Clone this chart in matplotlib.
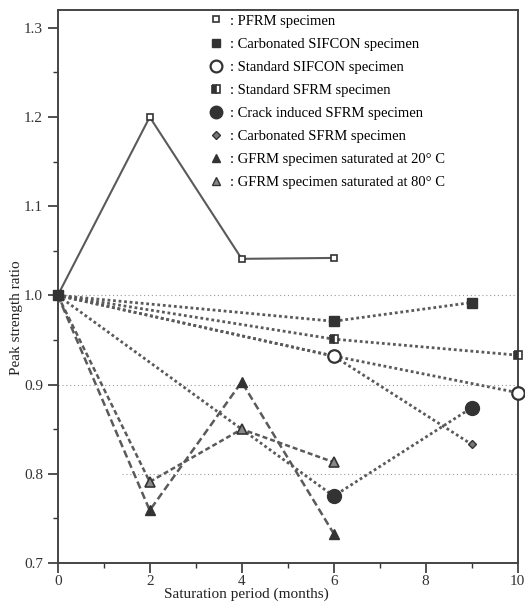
import matplotlib
matplotlib.use("Agg")
import matplotlib.pyplot as plt
from matplotlib.lines import Line2D
from matplotlib.ticker import MultipleLocator, FormatStrFormatter

# ---- data ----
pfrm_x = [0, 2, 4, 6]
pfrm_y = [1.0, 1.2, 1.041, 1.042]

carb_sifcon_x = [0, 6, 9]
carb_sifcon_y = [1.0, 0.971, 0.992]

std_sifcon_x = [0, 6, 10]
std_sifcon_y = [1.0, 0.932, 0.891]

std_sfrm_x = [0, 6, 10]
std_sfrm_y = [1.0, 0.951, 0.933]

crack_sfrm_x = [0, 6, 9]
crack_sfrm_y = [1.0, 0.775, 0.874]

carb_sfrm_x = [0, 6, 9]
carb_sfrm_y = [1.0, 0.932, 0.833]

gfrm20_x = [0, 2, 4, 6]
gfrm20_y = [1.0, 0.759, 0.903, 0.733]

gfrm80_x = [0, 2, 4, 6]
gfrm80_y = [1.0, 0.791, 0.850, 0.813]

legend_labels = [
    ": PFRM specimen",
    ": Carbonated SIFCON specimen",
    ": Standard SIFCON specimen",
    ": Standard SFRM specimen",
    ": Crack induced SFRM specimen",
    ": Carbonated SFRM specimen",
    ": GFRM specimen saturated at 20\u00b0 C",
    ": GFRM specimen saturated at 80\u00b0 C",
]

grid_levels = [1.0, 0.9, 0.8]

# ---- style ----
plt.rcParams['font.family'] = ['Liberation Serif', 'DejaVu Serif']
LC = '#5a5a5a'
MC = '#333333'

fig = plt.figure(figsize=(5.25, 6.06), dpi=100)
ax = fig.add_axes([0.110, 0.071, 0.876, 0.9125])

# faint dotted reference lines
ax.axhline(grid_levels[0], color='#9a9a9a', lw=0.8, ls=(0, (1, 2.5)), zorder=1)
ax.axhline(grid_levels[1], color='#9a9a9a', lw=0.8, ls=(0, (1, 2.5)), zorder=1)
ax.axhline(grid_levels[2], xmin=0.14, color='#9a9a9a', lw=0.8, ls=(0, (1, 2.5)), zorder=1)

dot = (0, (1, 1))
dash = (0, (3, 1.5))
skip0 = lambda n: list(range(1, n))

ax.plot(pfrm_x, pfrm_y, color=LC, lw=1.5, ls='-', marker='s', ms=5,
        mfc='white', mec=MC, mew=1.2, markevery=skip0(len(pfrm_x)),
        clip_on=False, zorder=3)
ax.plot(std_sfrm_x, std_sfrm_y, color=LC, lw=2, ls=dot, marker='s', ms=6,
        mfc=MC, mec=MC, fillstyle='left', markerfacecoloralt='white', mew=1.2,
        markevery=skip0(len(std_sfrm_x)), clip_on=False, zorder=3)
ax.plot(carb_sfrm_x, carb_sfrm_y, color=LC, lw=2, ls=dot, marker='D', ms=4.5,
        mfc='#777777', mec=MC, markevery=skip0(len(carb_sfrm_x)),
        clip_on=False, zorder=3)
ax.plot(std_sifcon_x, std_sifcon_y, color=LC, lw=2, ls=dot, marker='o', ms=9,
        mfc='white', mec=MC, mew=1.6, markevery=skip0(len(std_sifcon_x)),
        clip_on=False, zorder=4)
ax.plot(crack_sfrm_x, crack_sfrm_y, color=LC, lw=2, ls=dot, marker='o', ms=10,
        mfc=MC, mec=MC, markevery=skip0(len(crack_sfrm_x)),
        clip_on=False, zorder=3)
ax.plot(gfrm20_x, gfrm20_y, color=LC, lw=1.8, ls=dash, marker='^', ms=6.5,
        mfc=MC, mec=MC, markevery=skip0(len(gfrm20_x)), clip_on=False, zorder=3)
ax.plot(gfrm80_x, gfrm80_y, color=LC, lw=1.8, ls=(0, (2, 1.2)), marker='^', ms=6.5,
        mfc='#888888', mec=MC, mew=1.2, markevery=skip0(len(gfrm80_x)),
        clip_on=False, zorder=3)
ax.plot(carb_sifcon_x, carb_sifcon_y, color=LC, lw=2, ls=dot, marker='s', ms=6.5,
        mfc=MC, mec=MC, clip_on=False, zorder=5)

ax.set_xlim(0, 10)
ax.set_ylim(0.7, 1.32)
ax.xaxis.set_major_locator(MultipleLocator(2))
ax.xaxis.set_minor_locator(MultipleLocator(1))
ax.yaxis.set_major_locator(MultipleLocator(0.1))
ax.yaxis.set_minor_locator(MultipleLocator(0.05))
ax.yaxis.set_major_formatter(FormatStrFormatter('%.1f'))
ax.tick_params(which='major', direction='out', length=7, width=1.2, labelsize=11,
               colors='#333333')
ax.tick_params(axis='x', which='major', pad=1.5)
ax.tick_params(which='minor', direction='out', length=3.5, width=1.0, colors='#333333')
for s in ax.spines.values():
    s.set_linewidth(1.4)
    s.set_color('#444444')

ax.set_xlabel("Saturation period (months)", fontsize=11, color='#222222')
ax.xaxis.set_label_coords(0.41, -0.045)
ax.set_ylabel("Peak strength ratio", fontsize=11, color='#222222')
ax.yaxis.set_label_coords(-0.075, 0.443)

handles = [
    Line2D([], [], ls='none', marker='s', ms=5, mfc='white', mec=MC, mew=1.2),
    Line2D([], [], ls='none', marker='s', ms=6, mfc=MC, mec=MC),
    Line2D([], [], ls='none', marker='o', ms=8.5, mfc='white', mec=MC, mew=1.6),
    Line2D([], [], ls='none', marker='s', ms=5.5, mfc=MC, mec=MC, fillstyle='left',
           markerfacecoloralt='white', mew=1.2),
    Line2D([], [], ls='none', marker='o', ms=9, mfc=MC, mec=MC),
    Line2D([], [], ls='none', marker='D', ms=4, mfc='#777777', mec=MC),
    Line2D([], [], ls='none', marker='^', ms=5.5, mfc=MC, mec=MC),
    Line2D([], [], ls='none', marker='^', ms=5.5, mfc='#888888', mec=MC),
]
ax.legend(handles, legend_labels, loc='upper left', bbox_to_anchor=(0.318, 1.0),
          frameon=False, fontsize=10.5, handlelength=1.0, handletextpad=0.5,
          labelspacing=0.68, borderaxespad=0.1, borderpad=0.2)

fig.savefig("out.png", dpi=100)
